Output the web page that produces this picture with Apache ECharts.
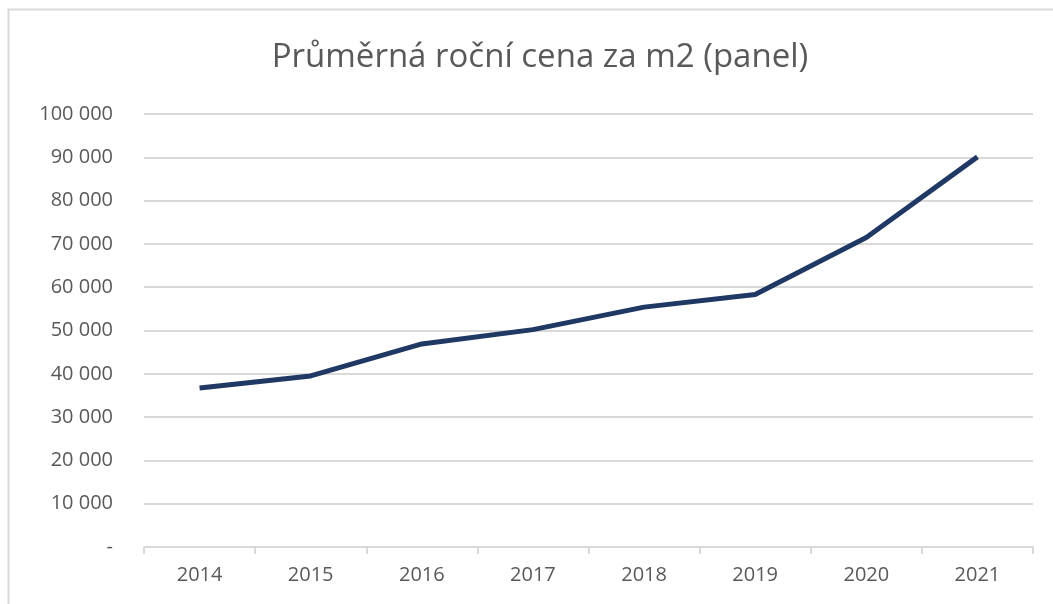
<!DOCTYPE html>
<html>
<head>
<meta charset="utf-8">
<script src="https://cdn.jsdelivr.net/npm/echarts@6/dist/echarts.min.js"></script>
<style>
  html, body { margin: 0; padding: 0; background: #fff; }
  #chart { width: 1053px; height: 604px; }
</style>
</head>
<body>
<div id="chart"></div>
<script>
var years = ['2014', '2015', '2016', '2017', '2018', '2019', '2020', '2021'];
var prices = [36700, 39500, 46900, 50200, 55400, 58300, 71500, 90100];

function fmt(v) {
    if (v === 0) return '-';
    return String(v).replace(/\B(?=(\d{3})+(?!\d))/g, ' ');
}

var chart = echarts.init(document.getElementById('chart'));
chart.setOption({
    animation: false,
    textStyle: { fontFamily: 'Open Sans' },
    graphic: [{
        type: 'rect',
        shape: { x: 8.5, y: 9.5, width: 1200, height: 800 },
        style: { fill: 'none', stroke: '#d9d9d9', lineWidth: 2 },
        silent: true
    }],
    title: {
        text: 'Průměrná roční cena za m2 (panel)',
        left: 535,
        textAlign: 'center',
        top: 36,
        textStyle: { fontSize: 33, fontWeight: 'normal', color: '#595959', fontFamily: 'Open Sans' }
    },
    grid: { left: 144, right: 20, top: 114, bottom: 57 },
    xAxis: {
        type: 'category',
        data: years,
        boundaryGap: true,
        axisLine: { lineStyle: { color: '#d9d9d9', width: 2 } },
        axisTick: { show: true, length: 7, lineStyle: { color: '#d9d9d9', width: 2 } },
        axisLabel: { color: '#595959', fontSize: 20, margin: 18 }
    },
    yAxis: {
        type: 'value',
        min: 0,
        max: 100000,
        interval: 10000,
        axisLine: { show: false },
        axisTick: { show: false },
        splitLine: { lineStyle: { color: '#d9d9d9', width: 2 } },
        axisLabel: { color: '#595959', fontSize: 20, margin: 31, formatter: fmt }
    },
    series: [{
        type: 'line',
        data: prices,
        showSymbol: false,
        symbol: 'none',
        lineStyle: { color: '#1f3864', width: 5 }
    }]
});
</script>
</body>
</html>
